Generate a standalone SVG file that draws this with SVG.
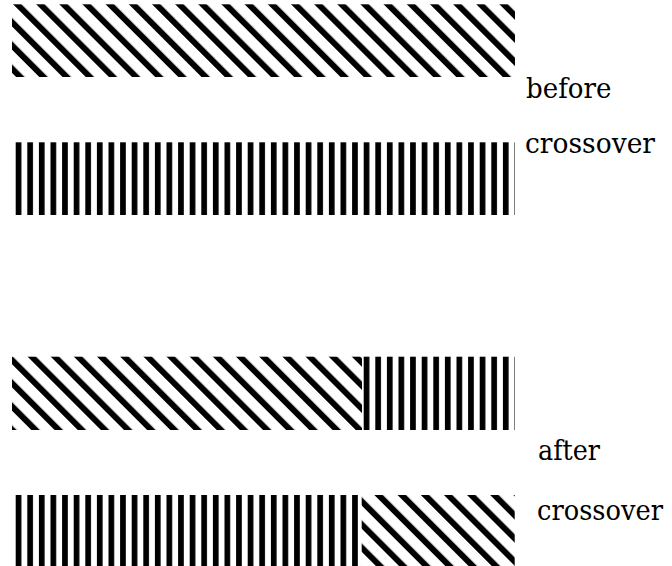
<svg xmlns="http://www.w3.org/2000/svg" width="672" height="566" viewBox="0 0 672 566">
  <style>
    .lbl { font-family: 'DejaVu Serif', serif; font-size: 28.5px; fill: #000; }
  </style>
  <defs>
    <pattern id="vert" patternUnits="userSpaceOnUse" x="15.7" y="0" width="11.6" height="20">
      <rect x="0" y="0" width="5.7" height="20" fill="#000"/>
    </pattern>
    <pattern id="diagA" patternUnits="userSpaceOnUse" x="6.15" y="0" width="16.38" height="20" patternTransform="rotate(-45)">
      <rect x="0" y="0" width="6" height="20" fill="#000"/>
    </pattern>
    <pattern id="diagB" patternUnits="userSpaceOnUse" x="-3.4" y="0" width="16.38" height="20" patternTransform="rotate(-45)">
      <rect x="0" y="0" width="6" height="20" fill="#000"/>
    </pattern>
  </defs>
  <rect width="672" height="566" fill="#fff"/>

  <g id="before-top">
    <rect x="12" y="4.3" width="503" height="72.7" fill="url(#diagA)"/>
  </g>
  <g id="before-bottom">
    <rect x="12" y="142.3" width="503" height="72.7" fill="url(#vert)"/>
  </g>
  <g id="after-top">
    <rect x="12" y="356.7" width="350" height="73.3" fill="url(#diagB)"/>
    <rect x="362" y="356.7" width="153" height="73.3" fill="url(#vert)"/>
  </g>
  <g id="after-bottom">
    <rect x="12" y="495" width="346" height="73" fill="url(#vert)"/>
    <rect x="361.7" y="495" width="153" height="73" fill="url(#diagB)"/>
  </g>

  <g id="labels">
    <text class="lbl" x="526" y="98" textLength="85.5" lengthAdjust="spacingAndGlyphs">before</text>
    <text class="lbl" x="525" y="153" textLength="130" lengthAdjust="spacingAndGlyphs">crossover</text>
    <text class="lbl" x="538" y="460" textLength="62" lengthAdjust="spacingAndGlyphs">after</text>
    <text class="lbl" x="537" y="519.5" textLength="126" lengthAdjust="spacingAndGlyphs">crossover</text>
  </g>
</svg>
